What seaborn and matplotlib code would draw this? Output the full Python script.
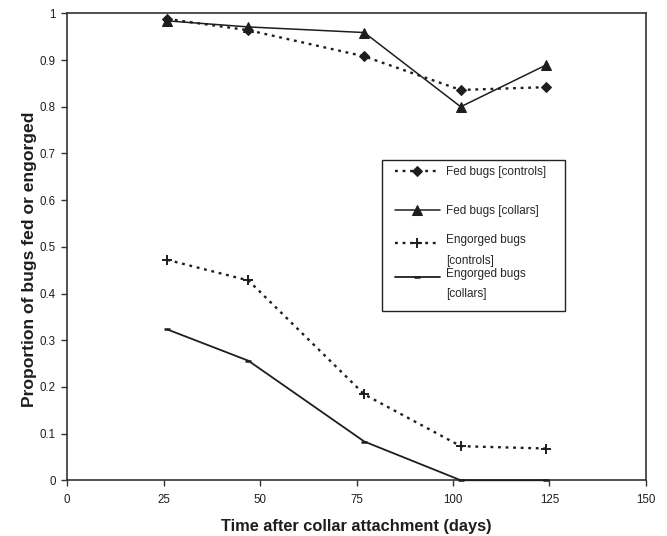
import matplotlib
matplotlib.use("Agg")
import matplotlib.pyplot as plt
import matplotlib.patches as mpatches
import seaborn as sns
import pandas as pd

days = [26, 47, 77, 102, 124]
fed_controls = [0.988, 0.964, 0.908, 0.836, 0.842]
fed_collars = [0.984, 0.971, 0.959, 0.800, 0.889]
engorged_controls = [0.472, 0.428, 0.184, 0.073, 0.068]
engorged_collars = [0.323, 0.256, 0.083, 0.0, 0.0]

series_labels = ["Fed bugs [controls]", "Fed bugs [collars]",
                 "Engorged bugs\n[controls]", "Engorged bugs\n[collars]"]
x_ticks = [0, 25, 50, 75, 100, 125, 150]
y_ticks = [0, 0.1, 0.2, 0.3, 0.4, 0.5, 0.6, 0.7, 0.8, 0.9, 1.0]
y_tick_labels = ["0", "0.1", "0.2", "0.3", "0.4", "0.5", "0.6", "0.7", "0.8", "0.9", "1"]

sns.set_style("white")
plt.rcParams['font.family'] = ['Liberation Sans', 'DejaVu Sans']

fig = plt.figure(figsize=(6.67, 5.36), dpi=100)
ax = fig.add_axes([0.1005, 0.104, 0.868, 0.871])

dotted = (0, (1.2, 2.0))
styles = [
    dict(linestyle=dotted, marker="D", markersize=5, linewidth=1.7),
    dict(linestyle="-", marker="^", markersize=6.5, linewidth=1.1),
    dict(linestyle=dotted, marker="+", markersize=7, markeredgewidth=1.4, linewidth=1.7),
    dict(linestyle="-", marker="_", markersize=5, markeredgewidth=1.8, linewidth=1.3),
]
values = [fed_controls, fed_collars, engorged_controls, engorged_collars]
color = "#1e1e1e"
for lab, vals, st in zip(series_labels, values, styles):
    df = pd.DataFrame({"day": days, "prop": vals})
    sns.lineplot(data=df, x="day", y="prop", ax=ax, color=color, label=lab,
                 markeredgecolor=color, clip_on=False, zorder=3, **st)

ax.set_xlim(0, 150)
ax.set_ylim(0, 1)
ax.set_xticks(x_ticks)
ax.set_yticks(y_ticks)
ax.set_yticklabels(y_tick_labels)
ax.tick_params(axis="both", direction="out", length=4, width=1, colors="#333",
               labelsize=8.3, bottom=True, left=True, pad=4)
ax.tick_params(axis="x", pad=6)
for lbl in ax.get_xticklabels() + ax.get_yticklabels():
    lbl.set_color("#1e1e1e")
for s in ax.spines.values():
    s.set_color("#333")
    s.set_linewidth(1.2)
ax.set_xlabel("Time after collar attachment (days)", fontsize=11.8, fontweight="bold",
              color="#1e1e1e", labelpad=9)
ax.set_ylabel("Proportion of bugs fed or engorged", fontsize=12.6, fontweight="bold",
              color="#1e1e1e")
ax.yaxis.set_label_coords(-0.052, 0.4735)

handles, labels = ax.get_legend_handles_labels()
common = dict(loc="upper left", fontsize=8.5, frameon=False, handlelength=3.8,
              borderpad=0, borderaxespad=0, handletextpad=0.55)
legA = ax.legend(handles[:2], labels[:2], bbox_to_anchor=(0.5665, 0.6736),
                 labelspacing=2.3, **common)
ax.add_artist(legA)
legB = ax.legend(handles[2:], labels[2:], bbox_to_anchor=(0.5665, 0.5266),
                 labelspacing=0.15, **common)
for t in legB.get_texts():
    t.set_linespacing(1.9)
for h in legB.legend_handles:
    y = h.get_ydata()
    h.set_ydata([v + 5.8 for v in y])

# legend frame
frame = mpatches.Rectangle((0.544, 0.362), 0.316, 0.3237, transform=ax.transAxes,
                           fill=False, edgecolor="#222", linewidth=1.0, zorder=5)
ax.add_patch(frame)

fig.savefig("out.png", dpi=100)
